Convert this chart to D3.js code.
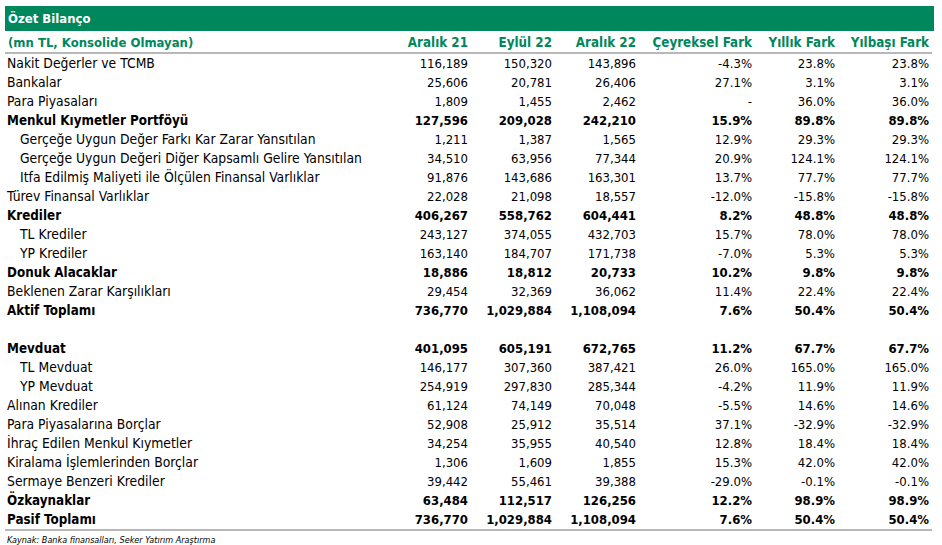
<!DOCTYPE html>
<html><head><meta charset="utf-8">
<script src="https://cdn.jsdelivr.net/npm/d3@7"></script>
<style>body{margin:0;background:#fff}svg{display:block}</style>
</head><body>
<script>
const title = "Özet Bilanço";
const subtitle = "(mn TL, Konsolide Olmayan)";
const columns = ["Aralık 21","Eylül 22","Aralık 22","Çeyreksel Fark","Yıllık Fark","Yılbaşı Fark"];
const labels = ["Nakit Değerler ve TCMB","Bankalar","Para Piyasaları","Menkul Kıymetler Portföyü","Gerçeğe Uygun Değer Farkı Kar Zarar Yansıtılan","Gerçeğe Uygun Değeri Diğer Kapsamlı Gelire Yansıtılan","Itfa Edilmiş Maliyeti ile Ölçülen Finansal Varlıklar","Türev Finansal Varlıklar","Krediler","TL Krediler","YP Krediler","Donuk Alacaklar","Beklenen Zarar Karşılıkları","Aktif Toplamı","","Mevduat","TL Mevduat","YP Mevduat","Alınan Krediler","Para Piyasalarına Borçlar","İhraç Edilen Menkul Kıymetler","Kiralama İşlemlerinden Borçlar","Sermaye Benzeri Krediler","Özkaynaklar","Pasif Toplamı"];
const boldRows = ["Menkul Kıymetler Portföyü","Krediler","Donuk Alacaklar","Aktif Toplamı","Mevduat","Özkaynaklar","Pasif Toplamı"];
const indentRows = ["Gerçeğe Uygun Değer Farkı Kar Zarar Yansıtılan","Gerçeğe Uygun Değeri Diğer Kapsamlı Gelire Yansıtılan","Itfa Edilmiş Maliyeti ile Ölçülen Finansal Varlıklar","TL Krediler","YP Krediler","TL Mevduat","YP Mevduat"];
const aralik21 = [116189,25606,1809,127596,1211,34510,91876,22028,406267,243127,163140,18886,29454,736770,null,401095,146177,254919,61124,52908,34254,1306,39442,63484,736770];
const eylul22 = [150320,20781,1455,209028,1387,63956,143686,21098,558762,374055,184707,18812,32369,1029884,null,605191,307360,297830,74149,25912,35955,1609,55461,112517,1029884];
const aralik22 = [143896,26406,2462,242210,1565,77344,163301,18557,604441,432703,171738,20733,36062,1108094,null,672765,387421,285344,70048,35514,40540,1855,39388,126256,1108094];
const ceyreksel = [-4.3,27.1,null,15.9,12.9,20.9,13.7,-12.0,8.2,15.7,-7.0,10.2,11.4,7.6,null,11.2,26.0,-4.2,-5.5,37.1,12.8,15.3,-29.0,12.2,7.6];
const yillik = [23.8,3.1,36.0,89.8,29.3,124.1,77.7,-15.8,48.8,78.0,5.3,9.8,22.4,50.4,null,67.7,165.0,11.9,14.6,-32.9,18.4,42.0,-0.1,98.9,50.4];
const yilbasi = [23.8,3.1,36.0,89.8,29.3,124.1,77.7,-15.8,48.8,78.0,5.3,9.8,22.4,50.4,null,67.7,165.0,11.9,14.6,-32.9,18.4,42.0,-0.1,98.9,50.4];
const source = "Kaynak: Banka finansalları, Seker Yatırım Araştırma";

const W = 942, H = 545;
const green = "#00875C";
const font = "'DejaVu Sans Condensed', 'DejaVu Sans', sans-serif";
const loc = d3.formatLocale({decimal:".", thousands:",", grouping:[3], currency:["",""], minus:"-"});
const fNum = loc.format(",d");
const fPct = v => v == null ? "-" : loc.format(".1f")(v) + "%";
const series = [aralik21, eylul22, aralik22, ceyreksel, yillik, yilbasi];
const isPct = [false,false,false,true,true,true];

const svg = d3.select("body").append("svg").attr("width", W).attr("height", H)
  .style("font-family", font);

const x = d3.scaleOrdinal().domain(columns).range([468, 552, 636, 752, 835, 929]);
const y = d3.scaleBand().domain(d3.range(labels.length)).range([53.5, 53.5 + 19 * labels.length]);

// title bar
svg.append("rect").attr("x", 5).attr("y", 6).attr("width", 929).attr("height", 25).attr("fill", green);
svg.append("text").attr("x", 8).attr("y", 23).attr("fill", "#fff").attr("font-weight", "bold")
  .attr("font-size", 13).text(title);

// header
svg.append("text").attr("x", 8).attr("y", 47).attr("fill", green).attr("font-weight", "bold")
  .attr("font-size", 13).text(subtitle);
svg.selectAll("text.col").data(columns).join("text").attr("class", "col")
  .attr("x", d => x(d)).attr("y", 47).attr("text-anchor", "end").attr("fill", green)
  .attr("font-weight", "bold").attr("font-size", 13.3).text(d => d);
svg.append("line").attr("x1", 5).attr("x2", 932).attr("y1", 53).attr("y2", 53)
  .attr("stroke", "#b8b8b8").attr("stroke-width", 2);

// rows
const rows = svg.selectAll("g.row").data(labels.map((l, i) => ({l, i}))).join("g").attr("class", "row")
  .attr("transform", d => `translate(0,${y(d.i) + y.bandwidth() / 2 + 4.8})`);
rows.append("text").attr("x", d => indentRows.includes(d.l) ? 20 : 7)
  .attr("font-size", d => boldRows.includes(d.l) ? 13.3 : 13.8).attr("fill", "#000")
  .attr("font-weight", d => boldRows.includes(d.l) ? "bold" : "normal").text(d => d.l);
rows.each(function(d) {
  if (d.l === "") return;
  const g = d3.select(this);
  columns.forEach((c, j) => {
    const v = series[j][d.i];
    g.append("text").attr("x", x(c)).attr("text-anchor", "end").attr("font-size", 13)
      .attr("fill", "#000").attr("font-weight", boldRows.includes(d.l) ? "bold" : "normal")
      .text(isPct[j] ? fPct(v) : fNum(v));
  });
});

svg.append("line").attr("x1", 5).attr("x2", 932).attr("y1", 530).attr("y2", 530)
  .attr("stroke", "#b8b8b8").attr("stroke-width", 2);
svg.append("text").attr("x", 7).attr("y", 543).attr("font-size", 9).attr("font-style", "italic")
  .attr("fill", "#000").text(source);
</script>
</body></html>
